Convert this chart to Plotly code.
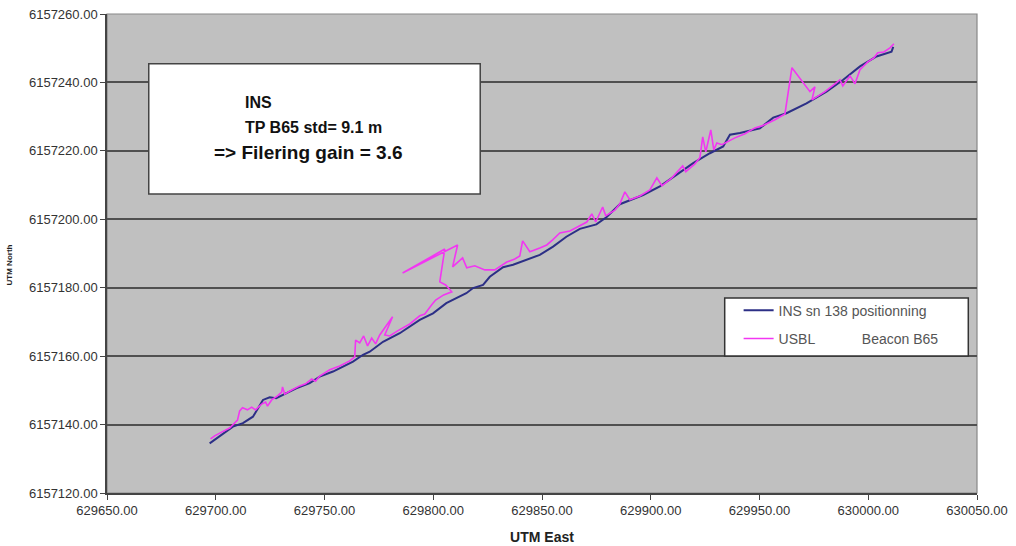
import plotly.graph_objects as go

# INS sn 138 positioning track (UTM East, UTM North)
ins_east = [629697.2, 629707.9, 629712.5, 629717.1, 629721.7, 629724.8, 629727.8, 629730.9,
            629737.0, 629743.2, 629747.8, 629753.9, 629763.1, 629767.7, 629770.8, 629776.9,
            629784.6, 629793.8, 629799.9, 629806.0, 629815.2, 629818.3, 629822.9, 629826.0,
            629832.1, 629836.7, 629842.8, 629849.0, 629855.1, 629861.2, 629867.4, 629875.0,
            629879.6, 629885.8, 629896.5, 629904.2, 629911.8, 629919.5, 629927.2, 629933.3,
            629936.4, 629941.0, 629950.2, 629956.3, 629962.4, 629971.6, 629980.8, 629988.5,
            629996.2, 630003.8, 630010.7, 630011.5]
ins_north = [6157134.5, 6157139.4, 6157140.4, 6157142.3, 6157147.2, 6157148.0, 6157147.7, 6157148.7,
             6157150.6, 6157152.1, 6157154.0, 6157155.5, 6157158.4, 6157160.4, 6157161.3, 6157164.2,
             6157166.7, 6157170.6, 6157172.5, 6157175.5, 6157178.4, 6157179.9, 6157180.8, 6157183.2,
             6157186.0, 6157186.7, 6157188.1, 6157189.6, 6157192.0, 6157194.9, 6157197.2, 6157198.5,
             6157200.6, 6157204.4, 6157207.1, 6157209.6, 6157213.0, 6157216.4, 6157219.3, 6157221.3,
             6157224.7, 6157225.2, 6157226.6, 6157229.7, 6157231.0, 6157233.9, 6157237.3, 6157240.8,
             6157244.7, 6157247.6, 6157249.0, 6157250.4]

# USBL track of beacon B65
usbl_east = [629697.6, 629699.5, 629702.7, 629706.4, 629710.0, 629711.0, 629712.3, 629714.6,
             629716.5, 629718.3, 629721.1, 629722.9, 629723.8, 629725.7, 629728.4, 629730.3,
             629730.7, 629731.7, 629734.9, 629738.6, 629741.3, 629744.1, 629745.9, 629747.8,
             629752.4, 629757.0, 629761.6, 629763.9, 629764.3, 629766.2, 629768.0, 629769.8,
             629771.7, 629773.5, 629775.4, 629781.3, 629777.7, 629780.0, 629783.6, 629789.2,
             629793.8, 629796.1, 629799.3, 629801.1, 629804.8, 629808.5, 629805.7, 629803.0,
             629805.3, 629785.9, 629811.2, 629808.9, 629813.5, 629815.4, 629819.1, 629823.7,
             629828.3, 629833.8, 629837.5, 629839.8, 629841.1, 629844.4, 629849.0,
             629852.2, 629854.9, 629858.2, 629862.8, 629867.4, 629870.6, 629872.9, 629874.7,
             629877.9, 629879.3, 629883.5, 629885.8, 629888.1, 629890.4, 629895.0, 629899.6,
             629902.8, 629905.1, 629909.7, 629914.7, 629916.1, 629920.3, 629922.6, 629923.9,
             629925.3, 629927.6, 629929.0, 629930.4, 629932.7, 629938.7, 629943.3, 629947.9,
             629951.1, 629957.1, 629961.7, 629964.9, 629973.2, 629975.5, 629974.1, 629980.1,
             629984.7, 629987.0, 629988.3, 629991.6, 629993.9, 629996.2, 629999.8, 630002.6,
             630004.4, 630007.2, 630010.0, 630011.8]
usbl_north = [6157135.8, 6157136.7, 6157137.8, 6157139.0, 6157141.3, 6157144.0, 6157144.9, 6157144.3,
              6157145.1, 6157144.3, 6157146.0, 6157146.6, 6157145.4, 6157147.2, 6157148.4, 6157149.5,
              6157151.0, 6157148.9, 6157150.1, 6157151.3, 6157151.9, 6157153.3, 6157152.7, 6157154.2,
              6157156.0, 6157157.1, 6157158.6, 6157159.8, 6157164.7, 6157163.9, 6157165.9, 6157163.0,
              6157165.3, 6157163.6, 6157166.2, 6157171.5, 6157166.2, 6157165.9, 6157167.4, 6157169.4,
              6157171.8, 6157172.3, 6157175.0, 6157176.4, 6157177.9, 6157178.8, 6157180.8, 6157181.7,
              6157191.3, 6157184.3, 6157192.5, 6157186.1, 6157188.7, 6157185.8, 6157186.4, 6157185.2,
              6157185.2, 6157187.5, 6157188.4, 6157189.3, 6157193.7, 6157190.5, 6157191.6,
              6157192.5, 6157194.0, 6157196.0, 6157196.6, 6157198.1, 6157199.2, 6157201.6, 6157199.2,
              6157203.6, 6157201.0, 6157202.7, 6157204.5, 6157208.0, 6157205.7, 6157206.8, 6157208.6,
              6157212.1, 6157209.8, 6157212.1, 6157215.6, 6157213.9, 6157216.2, 6157218.0, 6157224.1,
              6157219.7, 6157226.1, 6157220.3, 6157222.3, 6157221.8, 6157223.8, 6157225.0, 6157226.7,
              6157227.3, 6157229.1, 6157230.8, 6157244.3, 6157237.3, 6157238.7, 6157234.9, 6157237.3,
              6157239.6, 6157240.8, 6157239.0, 6157241.9, 6157239.6, 6157243.7, 6157246.0, 6157247.2,
              6157248.7, 6157248.9, 6157250.1, 6157251.3]

x_ticks = [629650, 629700, 629750, 629800, 629850, 629900, 629950, 630000, 630050]
y_ticks = [6157120, 6157140, 6157160, 6157180, 6157200, 6157220, 6157240, 6157260]

series_names = ["INS sn 138 positionning",
                "USBL" + "\u00a0" * 12 + "Beacon B65"]
box_lines = ["INS", "TP B65 std= 9.1 m", "=> Filering gain = 3.6"]

FONT = "Liberation Sans, Arial, sans-serif"

fig = go.Figure()
fig.add_trace(go.Scatter(x=ins_east, y=ins_north, mode="lines", name=series_names[0],
                         legendgroup="a", line=dict(color="#2c2f86", width=2)))
fig.add_trace(go.Scatter(x=usbl_east, y=usbl_north, mode="lines", name=series_names[1],
                         legendgroup="b", line=dict(color="#f236f2", width=1.6)))

fig.update_layout(
    width=1016, height=546,
    margin=dict(l=107, r=39, t=14, b=53, autoexpand=False),
    paper_bgcolor="white", plot_bgcolor="#c0c0c0",
    font=dict(family=FONT, color="#333333", size=13),
    showlegend=True,
    legend=dict(x=0.726, y=0.414, xanchor="left", yanchor="top",
                bgcolor="rgba(0,0,0,0)", borderwidth=0,
                font=dict(size=14, color="#555555", family=FONT),
                tracegroupgap=7, itemwidth=30),
    xaxis=dict(range=[629650, 630050], tickvals=x_ticks, tickformat=".2f", automargin=False,
               showgrid=False, zeroline=False, showline=True, linecolor="#444444", linewidth=1.5,
               ticks="outside", ticklen=5, tickcolor="#444444",
               tickfont=dict(size=13, color="#333333"),
               title=dict(text="<b>UTM East</b>", font=dict(size=14, color="#222222"), standoff=15)),
    yaxis=dict(range=[6157120, 6157260], tickvals=y_ticks, tickformat=".2f", automargin=False,
               showgrid=True, gridcolor="#505050", gridwidth=1.8, zeroline=False,
               showline=True, linecolor="#444444", linewidth=1.5,
               ticks="outside", ticklen=5, tickcolor="#444444",
               tickfont=dict(size=13, color="#333333")),
)

# plot border (top/right)
fig.add_shape(type="rect", xref="paper", yref="paper", x0=0, x1=1, y0=0, y1=1,
              line=dict(color="#888888", width=1.2), layer="below")

# legend box
fig.add_shape(type="rect", xref="paper", yref="paper", x0=0.710, x1=0.990, y0=0.286, y1=0.407,
              line=dict(color="#333333", width=1.5), fillcolor="white", layer="above")

# text box
fig.add_shape(type="rect", xref="paper", yref="paper", x0=0.048, x1=0.429, y0=0.624, y1=0.896,
              line=dict(color="#444444", width=1.5), fillcolor="white", layer="above")
fig.add_annotation(xref="paper", yref="paper", x=0.156, y=0.816, xanchor="left", yanchor="middle",
                   text="<b>" + box_lines[0] + "</b>", showarrow=False,
                   font=dict(size=16, color="#111111", family=FONT))
fig.add_annotation(xref="paper", yref="paper", x=0.156, y=0.763, xanchor="left", yanchor="middle",
                   text="<b>" + box_lines[1] + "</b>", showarrow=False,
                   font=dict(size=16, color="#111111", family=FONT))
fig.add_annotation(xref="paper", yref="paper", x=0.121, y=0.710, xanchor="left", yanchor="middle",
                   text="<b>" + box_lines[2] + "</b>", showarrow=False,
                   font=dict(size=19, color="#111111", family=FONT))

# y-axis title (tiny, rotated)
fig.add_annotation(xref="paper", yref="paper", x=-0.111, y=0.476, xanchor="center", yanchor="middle",
                   text="<b>UTM North</b>", textangle=-90, showarrow=False,
                   font=dict(size=8, color="#222222", family=FONT))

fig.write_html("out.html")
